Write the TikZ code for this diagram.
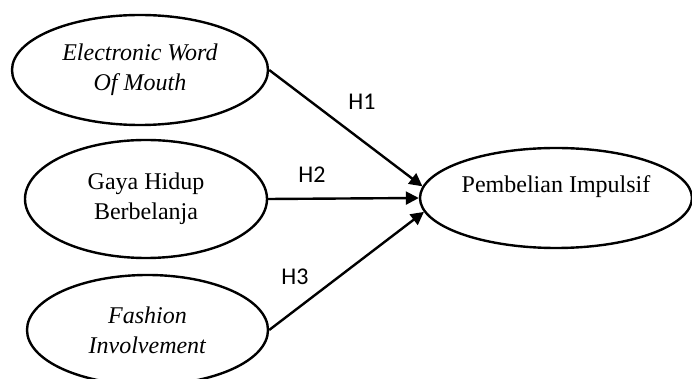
\documentclass[tikz,border=0pt]{standalone}
\usepackage{fontspec}
\setmainfont{Liberation Serif}
\newfontfamily\labelfont{Carlito}
\usetikzlibrary{shapes.geometric,arrows.meta}
\begin{document}
\begin{tikzpicture}[x=0.5pt,y=-0.5pt,
 construct/.style={ellipse,draw,line width=1.2pt,inner sep=0pt,font=\fontsize{12}{15}\selectfont,align=center},
 hyp/.style={font=\labelfont\fontsize{12}{14}\selectfont,inner sep=0pt},
 link/.style={line width=1.2pt,-{Triangle[length=6.5pt,width=6.5pt]}}]
\useasboundingbox (0,0) rectangle (692,379);
\clip (0,0) rectangle (692,379);
\node[construct,minimum width=128pt,minimum height=55pt] (ewom) at (140,70) {\textit{Electronic Word}\\\textit{Of Mouth}};
\node[construct,minimum width=121pt,minimum height=59pt] (gaya) at (146,199) {Gaya Hidup\\Berbelanja};
\node[construct,minimum width=120.5pt,minimum height=55pt] (fash) at (147.5,330) {\textit{Fashion}\\\textit{Involvement}};
\node[construct,minimum width=136pt,minimum height=50pt] (pemb) at (556,198) {};
\node[font=\fontsize{12}{15}\selectfont,inner sep=0pt] (pembt) at (556,187) {Pembelian Impulsif};
\draw[link] (ewom.east) -- (pemb.175);
\draw[link] (gaya.east) -- (pemb.west);
\draw[link] (fash.east) -- (pemb.186);
\node[hyp] (h1) at (362,102) {H1};
\node[hyp] (h2) at (312,175) {H2};
\node[hyp] (h3) at (295,277) {H3};
\end{tikzpicture}
\end{document}
